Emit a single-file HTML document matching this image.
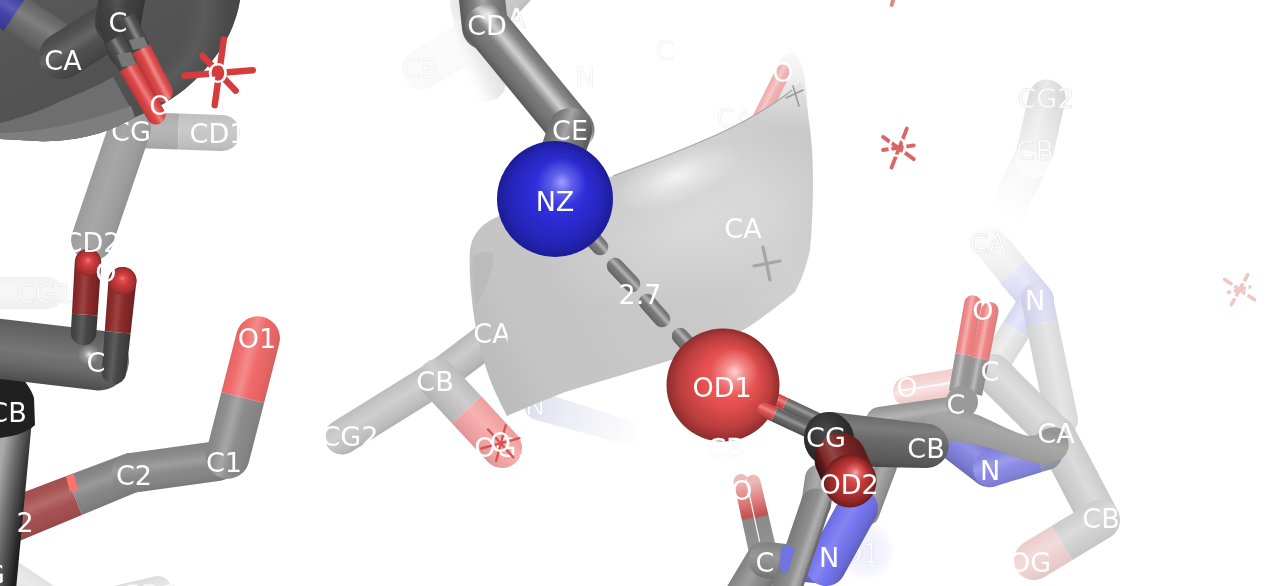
<!DOCTYPE html>
<html lang="en">
<head>
<meta charset="utf-8">
<title>PyMOL salt bridge NZ - OD1</title>
<style>
html,body{margin:0;padding:0;background:#ffffff;overflow:hidden;}
svg{display:block;will-change:transform;}
text{font-family:"DejaVu Sans","Liberation Sans",sans-serif;}
</style>
</head>
<body>
<svg width="1280" height="586" viewBox="0 0 1280 586">
<defs>
<linearGradient id="g1" gradientUnits="userSpaceOnUse" x1="1003.7" y1="175.8" x2="1036.3" y2="191.2"><stop offset="0" stop-color="#efefef"/><stop offset="0.19999999999999998" stop-color="#f2f2f2"/><stop offset="0.37" stop-color="#f3f3f3"/><stop offset="0.42" stop-color="#f3f3f3"/><stop offset="0.48" stop-color="#f3f3f3"/><stop offset="0.62" stop-color="#f2f2f2"/><stop offset="0.84" stop-color="#efefef"/><stop offset="1" stop-color="#ebebeb"/></linearGradient>
<linearGradient id="g2" gradientUnits="userSpaceOnUse" x1="1035" y1="152" x2="1005" y2="215"><stop offset="0" stop-color="#ffffff" stop-opacity="0.2"/><stop offset="1" stop-color="#ffffff" stop-opacity="1.0"/></linearGradient>
<linearGradient id="g3" gradientUnits="userSpaceOnUse" x1="1022.9" y1="121.0" x2="1059.1" y2="129.0"><stop offset="0" stop-color="#dadada"/><stop offset="0.19999999999999998" stop-color="#e1e1e1"/><stop offset="0.37" stop-color="#e8e8e8"/><stop offset="0.42" stop-color="#e9e9e9"/><stop offset="0.48" stop-color="#e7e7e7"/><stop offset="0.62" stop-color="#e0e0e0"/><stop offset="0.84" stop-color="#dadada"/><stop offset="1" stop-color="#d3d3d3"/></linearGradient>
<linearGradient id="g4" gradientUnits="userSpaceOnUse" x1="1047" y1="90" x2="1035" y2="160"><stop offset="0" stop-color="#ffffff" stop-opacity="0.0"/><stop offset="1" stop-color="#ffffff" stop-opacity="0.6"/></linearGradient>
<linearGradient id="g5" gradientUnits="userSpaceOnUse" x1="1026.6" y1="260.7" x2="1000.4" y2="282.3"><stop offset="0" stop-color="#dfdfdf"/><stop offset="0.19999999999999998" stop-color="#e4e4e4"/><stop offset="0.37" stop-color="#e9e9e9"/><stop offset="0.42" stop-color="#e9e9e9"/><stop offset="0.48" stop-color="#e8e8e8"/><stop offset="0.62" stop-color="#e4e4e4"/><stop offset="0.84" stop-color="#dfdfdf"/><stop offset="1" stop-color="#d9d9d9"/></linearGradient>
<linearGradient id="g6" gradientUnits="userSpaceOnUse" x1="1037.9" y1="274.9" x2="1012.1" y2="297.1"><stop offset="0" stop-color="#d3d3ef"/><stop offset="0.19999999999999998" stop-color="#d9d9f4"/><stop offset="0.37" stop-color="#dfdff6"/><stop offset="0.42" stop-color="#e0e0f6"/><stop offset="0.48" stop-color="#ddddf6"/><stop offset="0.62" stop-color="#d8d8f4"/><stop offset="0.84" stop-color="#d3d3ef"/><stop offset="1" stop-color="#cdcde8"/></linearGradient>
<linearGradient id="g7" gradientUnits="userSpaceOnUse" x1="984" y1="236" x2="1037" y2="300"><stop offset="0" stop-color="#ffffff" stop-opacity="0.85"/><stop offset="1" stop-color="#ffffff" stop-opacity="0.0"/></linearGradient>
<linearGradient id="g8" gradientUnits="userSpaceOnUse" x1="1013.4" y1="305.8" x2="1038.8" y2="321.7"><stop offset="0" stop-color="#d6d6ef"/><stop offset="0.19999999999999998" stop-color="#ddddf6"/><stop offset="0.37" stop-color="#e5e5f8"/><stop offset="0.42" stop-color="#e6e6f9"/><stop offset="0.48" stop-color="#e3e3f8"/><stop offset="0.62" stop-color="#dcdcf6"/><stop offset="0.84" stop-color="#d6d6ef"/><stop offset="1" stop-color="#cfcfe7"/></linearGradient>
<linearGradient id="g9" gradientUnits="userSpaceOnUse" x1="991.4" y1="340.8" x2="1016.8" y2="356.7"><stop offset="0" stop-color="#e0e0e0"/><stop offset="0.19999999999999998" stop-color="#e7e7e7"/><stop offset="0.37" stop-color="#ececec"/><stop offset="0.42" stop-color="#eeeeee"/><stop offset="0.48" stop-color="#ebebeb"/><stop offset="0.62" stop-color="#e6e6e6"/><stop offset="0.84" stop-color="#e0e0e0"/><stop offset="1" stop-color="#d8d8d8"/></linearGradient>
<linearGradient id="g10" gradientUnits="userSpaceOnUse" x1="1055.2" y1="307.9" x2="1023.8" y2="314.3"><stop offset="0" stop-color="#d4d4eb"/><stop offset="0.19999999999999998" stop-color="#dbdbf2"/><stop offset="0.37" stop-color="#e0e0f4"/><stop offset="0.42" stop-color="#e1e1f5"/><stop offset="0.48" stop-color="#dfdff4"/><stop offset="0.62" stop-color="#dadaf2"/><stop offset="0.84" stop-color="#d4d4eb"/><stop offset="1" stop-color="#cdcde3"/></linearGradient>
<linearGradient id="g11" gradientUnits="userSpaceOnUse" x1="1067.7" y1="368.4" x2="1036.3" y2="374.8"><stop offset="0" stop-color="#d8d8d8"/><stop offset="0.19999999999999998" stop-color="#dfdfdf"/><stop offset="0.37" stop-color="#e4e4e4"/><stop offset="0.42" stop-color="#e5e5e5"/><stop offset="0.48" stop-color="#e3e3e3"/><stop offset="0.62" stop-color="#dedede"/><stop offset="0.84" stop-color="#d8d8d8"/><stop offset="1" stop-color="#d1d1d1"/></linearGradient>
<linearGradient id="g12" gradientUnits="userSpaceOnUse" x1="1037.4" y1="390.6" x2="1010.6" y2="417.4"><stop offset="0" stop-color="#cecece"/><stop offset="0.19999999999999998" stop-color="#d7d7d7"/><stop offset="0.37" stop-color="#dddddd"/><stop offset="0.42" stop-color="#dedede"/><stop offset="0.48" stop-color="#dcdcdc"/><stop offset="0.62" stop-color="#d6d6d6"/><stop offset="0.84" stop-color="#cecece"/><stop offset="1" stop-color="#c5c5c5"/></linearGradient>
<linearGradient id="g13" gradientUnits="userSpaceOnUse" x1="1095.7" y1="468.7" x2="1060.3" y2="487.3"><stop offset="0" stop-color="#cacaca"/><stop offset="0.19999999999999998" stop-color="#d3d3d3"/><stop offset="0.37" stop-color="#dadada"/><stop offset="0.42" stop-color="#dbdbdb"/><stop offset="0.48" stop-color="#d8d8d8"/><stop offset="0.62" stop-color="#d2d2d2"/><stop offset="0.84" stop-color="#cacaca"/><stop offset="1" stop-color="#c1c1c1"/></linearGradient>
<linearGradient id="g14" gradientUnits="userSpaceOnUse" x1="1070.5" y1="514.5" x2="1091.2" y2="548.7"><stop offset="0" stop-color="#cccccc"/><stop offset="0.19999999999999998" stop-color="#d3d3d3"/><stop offset="0.37" stop-color="#dadada"/><stop offset="0.42" stop-color="#dbdbdb"/><stop offset="0.48" stop-color="#d8d8d8"/><stop offset="0.62" stop-color="#d2d2d2"/><stop offset="0.84" stop-color="#cccccc"/><stop offset="1" stop-color="#c5c5c5"/></linearGradient>
<linearGradient id="g15" gradientUnits="userSpaceOnUse" x1="1037.5" y1="534.5" x2="1058.2" y2="568.7"><stop offset="0" stop-color="#eacccc"/><stop offset="0.19999999999999998" stop-color="#f0d3d3"/><stop offset="0.37" stop-color="#f3dada"/><stop offset="0.42" stop-color="#f3dbdb"/><stop offset="0.48" stop-color="#f2d8d8"/><stop offset="0.62" stop-color="#f0d2d2"/><stop offset="0.84" stop-color="#eacccc"/><stop offset="1" stop-color="#e2c5c5"/></linearGradient>
<linearGradient id="g16" gradientUnits="userSpaceOnUse" x1="927.5" y1="373.0" x2="932.5" y2="402.5"><stop offset="0" stop-color="#f0cece"/><stop offset="0.28" stop-color="#f7d5d5"/><stop offset="0.45" stop-color="#f9e1e1"/><stop offset="0.5" stop-color="#fae3e3"/><stop offset="0.56" stop-color="#f9dfdf"/><stop offset="0.7" stop-color="#f7d4d4"/><stop offset="0.84" stop-color="#f0cece"/><stop offset="1" stop-color="#e8c7c7"/></linearGradient>
<linearGradient id="g17" gradientUnits="userSpaceOnUse" x1="438.0" y1="36.0" x2="459.0" y2="70.0"><stop offset="0" stop-color="#fafafa"/><stop offset="0.19999999999999998" stop-color="#fbfbfb"/><stop offset="0.37" stop-color="#fbfbfb"/><stop offset="0.42" stop-color="#fbfbfb"/><stop offset="0.48" stop-color="#fbfbfb"/><stop offset="0.62" stop-color="#fbfbfb"/><stop offset="0.84" stop-color="#fafafa"/><stop offset="1" stop-color="#f8f8f8"/></linearGradient>
<linearGradient id="g18" gradientUnits="userSpaceOnUse" x1="490" y1="40" x2="452" y2="58"><stop offset="0" stop-color="#dcdcdc"/><stop offset="0.5" stop-color="#efefef"/><stop offset="1" stop-color="#ffffff" stop-opacity="0"/></linearGradient>
<linearGradient id="g19" gradientUnits="userSpaceOnUse" x1="502.8" y1="-28.5" x2="532.2" y2="-1.5"><stop offset="0" stop-color="#c5c5c5"/><stop offset="0.19999999999999998" stop-color="#cdcdcd"/><stop offset="0.37" stop-color="#d7d7d7"/><stop offset="0.42" stop-color="#d9d9d9"/><stop offset="0.48" stop-color="#d5d5d5"/><stop offset="0.62" stop-color="#cccccc"/><stop offset="0.84" stop-color="#c5c5c5"/><stop offset="1" stop-color="#bcbcbc"/></linearGradient>
<linearGradient id="g20" gradientUnits="userSpaceOnUse" x1="525" y1="400" x2="640" y2="440"><stop offset="0" stop-color="#dcdcf0"/><stop offset="0.35" stop-color="#ececf6"/><stop offset="1" stop-color="#ffffff"/></linearGradient>
<linearGradient id="g21" gradientUnits="userSpaceOnUse" x1="453.3" y1="344.4" x2="473.7" y2="371.6"><stop offset="0" stop-color="#b8b8b8"/><stop offset="0.19999999999999998" stop-color="#c3c3c3"/><stop offset="0.37" stop-color="#cacaca"/><stop offset="0.42" stop-color="#cbcbcb"/><stop offset="0.48" stop-color="#c8c8c8"/><stop offset="0.62" stop-color="#c2c2c2"/><stop offset="0.84" stop-color="#b8b8b8"/><stop offset="1" stop-color="#ababab"/></linearGradient>
<linearGradient id="g22" gradientUnits="userSpaceOnUse" x1="380.3" y1="392.6" x2="398.7" y2="422.4"><stop offset="0" stop-color="#bdbdbd"/><stop offset="0.19999999999999998" stop-color="#c7c7c7"/><stop offset="0.37" stop-color="#cdcdcd"/><stop offset="0.42" stop-color="#cfcfcf"/><stop offset="0.48" stop-color="#cccccc"/><stop offset="0.62" stop-color="#c6c6c6"/><stop offset="0.84" stop-color="#bdbdbd"/><stop offset="1" stop-color="#b2b2b2"/></linearGradient>
<linearGradient id="g23" gradientUnits="userSpaceOnUse" x1="466.5" y1="380.4" x2="437.2" y2="407.6"><stop offset="0" stop-color="#bbbbbb"/><stop offset="0.19999999999999998" stop-color="#c5c5c5"/><stop offset="0.37" stop-color="#cccccc"/><stop offset="0.42" stop-color="#cdcdcd"/><stop offset="0.48" stop-color="#cacaca"/><stop offset="0.62" stop-color="#c4c4c4"/><stop offset="0.84" stop-color="#bbbbbb"/><stop offset="1" stop-color="#b0b0b0"/></linearGradient>
<linearGradient id="g24" gradientUnits="userSpaceOnUse" x1="499.5" y1="415.9" x2="470.2" y2="443.1"><stop offset="0" stop-color="#e99f9f"/><stop offset="0.19999999999999998" stop-color="#f4a7a7"/><stop offset="0.37" stop-color="#f5b1b1"/><stop offset="0.42" stop-color="#f6b3b3"/><stop offset="0.48" stop-color="#f5afaf"/><stop offset="0.62" stop-color="#f4a6a6"/><stop offset="0.84" stop-color="#e99f9f"/><stop offset="1" stop-color="#dc9595"/></linearGradient>
<linearGradient id="g25" gradientUnits="userSpaceOnUse" x1="792" y1="50" x2="786" y2="110"><stop offset="0" stop-color="#fbfbfb"/><stop offset="0.5" stop-color="#ededed"/><stop offset="1" stop-color="#d8d8d8"/></linearGradient>
<linearGradient id="g26" gradientUnits="userSpaceOnUse" x1="764.8" y1="91.6" x2="778.2" y2="98.4"><stop offset="0" stop-color="#ecadad"/><stop offset="0.19999999999999998" stop-color="#f3b4b4"/><stop offset="0.37" stop-color="#f6c6c6"/><stop offset="0.42" stop-color="#f7c9c9"/><stop offset="0.48" stop-color="#f6c2c2"/><stop offset="0.62" stop-color="#f3b2b2"/><stop offset="0.84" stop-color="#ecadad"/><stop offset="1" stop-color="#e4a7a7"/></linearGradient>
<linearGradient id="g27" gradientUnits="userSpaceOnUse" x1="470" y1="330" x2="815" y2="150"><stop offset="0" stop-color="#bcbcbc"/><stop offset="0.12" stop-color="#c4c4c4"/><stop offset="0.55" stop-color="#c9c9c9"/><stop offset="0.8" stop-color="#d0d0d0"/><stop offset="1" stop-color="#c9c9c9"/></linearGradient>
<linearGradient id="g28" gradientUnits="userSpaceOnUse" x1="800" y1="78" x2="790" y2="130"><stop offset="0" stop-color="#ffffff" stop-opacity="0.55"/><stop offset="1" stop-color="#ffffff" stop-opacity="0"/></linearGradient>
<radialGradient id="g29" gradientUnits="userSpaceOnUse" cx="0" cy="0" r="1" gradientTransform="translate(676,177) rotate(-21) scale(68,27)"><stop offset="0" stop-color="#ffffff" stop-opacity="0.75"/><stop offset="0.5" stop-color="#ffffff" stop-opacity="0.3"/><stop offset="1" stop-color="#ffffff" stop-opacity="0"/></radialGradient>
<radialGradient id="g30" gradientUnits="userSpaceOnUse" cx="0" cy="0" r="1" gradientTransform="translate(690,225) rotate(-20) scale(150,75)"><stop offset="0" stop-color="#ffffff" stop-opacity="0.28"/><stop offset="0.6" stop-color="#ffffff" stop-opacity="0.12"/><stop offset="1" stop-color="#ffffff" stop-opacity="0"/></radialGradient>
<linearGradient id="g31" gradientUnits="userSpaceOnUse" x1="505.4" y1="1.1" x2="459.6" y2="5.9"><stop offset="0" stop-color="#6d6d6d"/><stop offset="0.28" stop-color="#818181"/><stop offset="0.45" stop-color="#9f9f9f"/><stop offset="0.5" stop-color="#a5a5a5"/><stop offset="0.56" stop-color="#999999"/><stop offset="0.7" stop-color="#7e7e7e"/><stop offset="0.84" stop-color="#6d6d6d"/><stop offset="1" stop-color="#585858"/></linearGradient>
<linearGradient id="g32" gradientUnits="userSpaceOnUse" x1="547.1" y1="64.2" x2="512.4" y2="92.8"><stop offset="0" stop-color="#6f6f6f"/><stop offset="0.17" stop-color="#868686"/><stop offset="0.34" stop-color="#c3c3c3"/><stop offset="0.39" stop-color="#cfcfcf"/><stop offset="0.45" stop-color="#b7b7b7"/><stop offset="0.5900000000000001" stop-color="#808080"/><stop offset="0.84" stop-color="#6f6f6f"/><stop offset="1" stop-color="#5a5a5a"/></linearGradient>
<linearGradient id="g33" gradientUnits="userSpaceOnUse" x1="544.1" y1="138.0" x2="585.9" y2="152.0"><stop offset="0" stop-color="#6b6b6b"/><stop offset="0.19999999999999998" stop-color="#7f7f7f"/><stop offset="0.37" stop-color="#9d9d9d"/><stop offset="0.42" stop-color="#a3a3a3"/><stop offset="0.48" stop-color="#989898"/><stop offset="0.62" stop-color="#7c7c7c"/><stop offset="0.84" stop-color="#6b6b6b"/><stop offset="1" stop-color="#575757"/></linearGradient>
<radialGradient id="g34"><stop offset="0" stop-color="#ffffff" stop-opacity="0.75"/><stop offset="1" stop-color="#ffffff" stop-opacity="0"/></radialGradient>
<linearGradient id="g35" gradientUnits="userSpaceOnUse" x1="598.7" y1="233.0" x2="586.3" y2="244.0"><stop offset="0" stop-color="#6f6f6f"/><stop offset="0.18000000000000002" stop-color="#7e7e7e"/><stop offset="0.35000000000000003" stop-color="#a9a9a9"/><stop offset="0.4" stop-color="#b2b2b2"/><stop offset="0.46" stop-color="#a1a1a1"/><stop offset="0.6000000000000001" stop-color="#7a7a7a"/><stop offset="0.84" stop-color="#6f6f6f"/><stop offset="1" stop-color="#626262"/></linearGradient>
<linearGradient id="g36" gradientUnits="userSpaceOnUse" x1="629.5" y1="269.3" x2="617.5" y2="280.7"><stop offset="0" stop-color="#6f6f6f"/><stop offset="0.18000000000000002" stop-color="#7e7e7e"/><stop offset="0.35000000000000003" stop-color="#a9a9a9"/><stop offset="0.4" stop-color="#b2b2b2"/><stop offset="0.46" stop-color="#a1a1a1"/><stop offset="0.6000000000000001" stop-color="#7a7a7a"/><stop offset="0.84" stop-color="#6f6f6f"/><stop offset="1" stop-color="#626262"/></linearGradient>
<linearGradient id="g37" gradientUnits="userSpaceOnUse" x1="660.7" y1="305.0" x2="648.3" y2="316.0"><stop offset="0" stop-color="#6f6f6f"/><stop offset="0.18000000000000002" stop-color="#7e7e7e"/><stop offset="0.35000000000000003" stop-color="#a9a9a9"/><stop offset="0.4" stop-color="#b2b2b2"/><stop offset="0.46" stop-color="#a1a1a1"/><stop offset="0.6000000000000001" stop-color="#7a7a7a"/><stop offset="0.84" stop-color="#6f6f6f"/><stop offset="1" stop-color="#626262"/></linearGradient>
<linearGradient id="g38" gradientUnits="userSpaceOnUse" x1="696.1" y1="341.5" x2="683.9" y2="352.5"><stop offset="0" stop-color="#6f6f6f"/><stop offset="0.18000000000000002" stop-color="#7e7e7e"/><stop offset="0.35000000000000003" stop-color="#a9a9a9"/><stop offset="0.4" stop-color="#b2b2b2"/><stop offset="0.46" stop-color="#a1a1a1"/><stop offset="0.6000000000000001" stop-color="#7a7a7a"/><stop offset="0.84" stop-color="#6f6f6f"/><stop offset="1" stop-color="#626262"/></linearGradient>
<linearGradient id="g39" gradientUnits="userSpaceOnUse" x1="773.9" y1="391.3" x2="768.3" y2="403.1"><stop offset="0" stop-color="#c24545"/><stop offset="0.19999999999999998" stop-color="#e15454"/><stop offset="0.37" stop-color="#e87d7d"/><stop offset="0.42" stop-color="#e98484"/><stop offset="0.48" stop-color="#e77575"/><stop offset="0.62" stop-color="#e05050"/><stop offset="0.84" stop-color="#c24545"/><stop offset="1" stop-color="#9d3838"/></linearGradient>
<linearGradient id="g40" gradientUnits="userSpaceOnUse" x1="803.9" y1="405.6" x2="798.3" y2="417.3"><stop offset="0" stop-color="#616161"/><stop offset="0.19999999999999998" stop-color="#737373"/><stop offset="0.37" stop-color="#949494"/><stop offset="0.42" stop-color="#9b9b9b"/><stop offset="0.48" stop-color="#8e8e8e"/><stop offset="0.62" stop-color="#707070"/><stop offset="0.84" stop-color="#616161"/><stop offset="1" stop-color="#4e4e4e"/></linearGradient>
<radialGradient id="g41" gradientUnits="userSpaceOnUse" cx="555" cy="199" r="58" fx="562" fy="182"><stop offset="0" stop-color="#5c5cff"/><stop offset="0.18" stop-color="#3f3fe6"/><stop offset="0.5" stop-color="#2c2cd6"/><stop offset="0.82" stop-color="#2424b6"/><stop offset="1" stop-color="#1c1c96"/></radialGradient>
<radialGradient id="g42"><stop offset="0" stop-color="#ffffff" stop-opacity="0.4"/><stop offset="0.4" stop-color="#ffffff" stop-opacity="0.18"/><stop offset="1" stop-color="#ffffff" stop-opacity="0"/></radialGradient>
<radialGradient id="g43" gradientUnits="userSpaceOnUse" cx="723" cy="385" r="56.5" fx="735" fy="372"><stop offset="0" stop-color="#ff7a7a"/><stop offset="0.18" stop-color="#ef6060"/><stop offset="0.5" stop-color="#e44e4e"/><stop offset="0.82" stop-color="#b93d3d"/><stop offset="1" stop-color="#8e2c2c"/></radialGradient>
<radialGradient id="g44"><stop offset="0" stop-color="#ffffff" stop-opacity="0.65"/><stop offset="0.4" stop-color="#ffffff" stop-opacity="0.29"/><stop offset="1" stop-color="#ffffff" stop-opacity="0"/></radialGradient>
<linearGradient id="g45" gradientUnits="userSpaceOnUse" x1="917.0" y1="401.6" x2="921.0" y2="429.4"><stop offset="0" stop-color="#929292"/><stop offset="0.19999999999999998" stop-color="#a2a2a2"/><stop offset="0.37" stop-color="#b0b0b0"/><stop offset="0.42" stop-color="#b3b3b3"/><stop offset="0.48" stop-color="#adadad"/><stop offset="0.62" stop-color="#a0a0a0"/><stop offset="0.84" stop-color="#929292"/><stop offset="1" stop-color="#808080"/></linearGradient>
<linearGradient id="g46" gradientUnits="userSpaceOnUse" x1="977.6" y1="435.5" x2="954.4" y2="465.5"><stop offset="0" stop-color="#7979cc"/><stop offset="0.19999999999999998" stop-color="#8585de"/><stop offset="0.37" stop-color="#9191e1"/><stop offset="0.42" stop-color="#9393e2"/><stop offset="0.48" stop-color="#8e8ee1"/><stop offset="0.62" stop-color="#8484de"/><stop offset="0.84" stop-color="#7979cc"/><stop offset="1" stop-color="#6c6cb6"/></linearGradient>
<linearGradient id="g47" gradientUnits="userSpaceOnUse" x1="1008.6" y1="444.6" x2="1019.0" y2="479.0"><stop offset="0" stop-color="#8383da"/><stop offset="0.19999999999999998" stop-color="#8b8be6"/><stop offset="0.37" stop-color="#9999e9"/><stop offset="0.42" stop-color="#9c9cea"/><stop offset="0.48" stop-color="#9696e9"/><stop offset="0.62" stop-color="#8a8ae6"/><stop offset="0.84" stop-color="#8383da"/><stop offset="1" stop-color="#7979ca"/></linearGradient>
<linearGradient id="g48" gradientUnits="userSpaceOnUse" x1="1036.6" y1="436.1" x2="1047.0" y2="470.5"><stop offset="0" stop-color="#9292aa"/><stop offset="0.19999999999999998" stop-color="#9b9bb5"/><stop offset="0.37" stop-color="#a7a7be"/><stop offset="0.42" stop-color="#a9a9bf"/><stop offset="0.48" stop-color="#a5a5bc"/><stop offset="0.62" stop-color="#9a9ab4"/><stop offset="0.84" stop-color="#9292aa"/><stop offset="1" stop-color="#88889e"/></linearGradient>
<linearGradient id="g49" gradientUnits="userSpaceOnUse" x1="952.1" y1="371.8" x2="969.4" y2="374.8"><stop offset="0" stop-color="#959595"/><stop offset="0.19999999999999998" stop-color="#9d9d9d"/><stop offset="0.37" stop-color="#b8b8b8"/><stop offset="0.42" stop-color="#bdbdbd"/><stop offset="0.48" stop-color="#b3b3b3"/><stop offset="0.62" stop-color="#9a9a9a"/><stop offset="0.84" stop-color="#959595"/><stop offset="1" stop-color="#8f8f8f"/></linearGradient>
<linearGradient id="g50" gradientUnits="userSpaceOnUse" x1="959.9" y1="327.3" x2="977.1" y2="330.3"><stop offset="0" stop-color="#e88080"/><stop offset="0.19999999999999998" stop-color="#f08787"/><stop offset="0.37" stop-color="#f4a9a9"/><stop offset="0.42" stop-color="#f5afaf"/><stop offset="0.48" stop-color="#f4a2a2"/><stop offset="0.62" stop-color="#f08484"/><stop offset="0.84" stop-color="#e88080"/><stop offset="1" stop-color="#df7b7b"/></linearGradient>
<linearGradient id="g51" gradientUnits="userSpaceOnUse" x1="968.4" y1="374.7" x2="985.6" y2="378.0"><stop offset="0" stop-color="#919191"/><stop offset="0.19999999999999998" stop-color="#999999"/><stop offset="0.37" stop-color="#b5b5b5"/><stop offset="0.42" stop-color="#bbbbbb"/><stop offset="0.48" stop-color="#b0b0b0"/><stop offset="0.62" stop-color="#969696"/><stop offset="0.84" stop-color="#919191"/><stop offset="1" stop-color="#8c8c8c"/></linearGradient>
<linearGradient id="g52" gradientUnits="userSpaceOnUse" x1="976.6" y1="332.7" x2="993.8" y2="336.0"><stop offset="0" stop-color="#e88080"/><stop offset="0.19999999999999998" stop-color="#f08787"/><stop offset="0.37" stop-color="#f4a9a9"/><stop offset="0.42" stop-color="#f5afaf"/><stop offset="0.48" stop-color="#f4a2a2"/><stop offset="0.62" stop-color="#f08484"/><stop offset="0.84" stop-color="#e88080"/><stop offset="1" stop-color="#df7b7b"/></linearGradient>
<linearGradient id="g53" gradientUnits="userSpaceOnUse" x1="990" y1="415" x2="978" y2="455"><stop offset="0" stop-color="#969696"/><stop offset="0.3" stop-color="#a8a8a8"/><stop offset="0.7" stop-color="#9c9c9c"/><stop offset="1" stop-color="#888888"/></linearGradient>
<radialGradient id="g54"><stop offset="0" stop-color="#eeeefb"/><stop offset="0.7" stop-color="#f5f5fd"/><stop offset="1" stop-color="#ffffff" stop-opacity="0"/></radialGradient>
<linearGradient id="g55" gradientUnits="userSpaceOnUse" x1="741" y1="481" x2="756" y2="550"><stop offset="0" stop-color="#ecb8b8"/><stop offset="0.3" stop-color="#dc7c7c"/><stop offset="0.52" stop-color="#c25050"/><stop offset="0.56" stop-color="#8a8a8a"/><stop offset="1" stop-color="#929292"/></linearGradient>
<linearGradient id="g56" gradientUnits="userSpaceOnUse" x1="753" y1="482" x2="768" y2="546"><stop offset="0" stop-color="#ecb8b8"/><stop offset="0.3" stop-color="#dc7c7c"/><stop offset="0.52" stop-color="#c25050"/><stop offset="0.56" stop-color="#8a8a8a"/><stop offset="1" stop-color="#929292"/></linearGradient>
<linearGradient id="g57" gradientUnits="userSpaceOnUse" x1="733.7" y1="575.2" x2="766.3" y2="594.8"><stop offset="0" stop-color="#818181"/><stop offset="0.19999999999999998" stop-color="#8f8f8f"/><stop offset="0.37" stop-color="#9c9c9c"/><stop offset="0.42" stop-color="#9f9f9f"/><stop offset="0.48" stop-color="#9a9a9a"/><stop offset="0.62" stop-color="#8e8e8e"/><stop offset="0.84" stop-color="#818181"/><stop offset="1" stop-color="#727272"/></linearGradient>
<linearGradient id="g58" gradientUnits="userSpaceOnUse" x1="778.3" y1="543.1" x2="774.7" y2="579.0"><stop offset="0" stop-color="#7f7f7f"/><stop offset="0.19999999999999998" stop-color="#8d8d8d"/><stop offset="0.37" stop-color="#969696"/><stop offset="0.42" stop-color="#989898"/><stop offset="0.48" stop-color="#949494"/><stop offset="0.62" stop-color="#8c8c8c"/><stop offset="0.84" stop-color="#7f7f7f"/><stop offset="1" stop-color="#707070"/></linearGradient>
<linearGradient id="g59" gradientUnits="userSpaceOnUse" x1="808.3" y1="546.1" x2="804.7" y2="582.0"><stop offset="0" stop-color="#6a6ad1"/><stop offset="0.19999999999999998" stop-color="#7575e6"/><stop offset="0.37" stop-color="#8080e8"/><stop offset="0.42" stop-color="#8282e8"/><stop offset="0.48" stop-color="#7e7ee8"/><stop offset="0.62" stop-color="#7474e6"/><stop offset="0.84" stop-color="#6a6ad1"/><stop offset="1" stop-color="#5d5db8"/></linearGradient>
<linearGradient id="g60" gradientUnits="userSpaceOnUse" x1="866.7" y1="486.1" x2="887.3" y2="493.9"><stop offset="0" stop-color="#919191"/><stop offset="0.19999999999999998" stop-color="#9d9d9d"/><stop offset="0.37" stop-color="#a9a9a9"/><stop offset="0.42" stop-color="#ababab"/><stop offset="0.48" stop-color="#a6a6a6"/><stop offset="0.62" stop-color="#9c9c9c"/><stop offset="0.84" stop-color="#919191"/><stop offset="1" stop-color="#858585"/></linearGradient>
<linearGradient id="g61" gradientUnits="userSpaceOnUse" x1="824.5" y1="527.3" x2="859.5" y2="546.7"><stop offset="0" stop-color="#6b6bda"/><stop offset="0.18000000000000002" stop-color="#7777f0"/><stop offset="0.35000000000000003" stop-color="#8282f1"/><stop offset="0.4" stop-color="#8484f2"/><stop offset="0.46" stop-color="#8080f1"/><stop offset="0.6000000000000001" stop-color="#7676f0"/><stop offset="0.84" stop-color="#6b6bda"/><stop offset="1" stop-color="#5e5ec0"/></linearGradient>
<linearGradient id="g62" gradientUnits="userSpaceOnUse" x1="803.2" y1="489.3" x2="832.8" y2="493.7"><stop offset="0" stop-color="#8e8e8e"/><stop offset="0.19999999999999998" stop-color="#9d9d9d"/><stop offset="0.37" stop-color="#a9a9a9"/><stop offset="0.42" stop-color="#ababab"/><stop offset="0.48" stop-color="#a6a6a6"/><stop offset="0.62" stop-color="#9c9c9c"/><stop offset="0.84" stop-color="#8e8e8e"/><stop offset="1" stop-color="#7d7d7d"/></linearGradient>
<linearGradient id="g63" gradientUnits="userSpaceOnUse" x1="785.3" y1="546.7" x2="813.7" y2="556.3"><stop offset="0" stop-color="#797979"/><stop offset="0.48" stop-color="#8f8f8f"/><stop offset="0.6499999999999999" stop-color="#a9a9a9"/><stop offset="0.7" stop-color="#aeaeae"/><stop offset="0.76" stop-color="#a4a4a4"/><stop offset="0.8999999999999999" stop-color="#8c8c8c"/><stop offset="0.84" stop-color="#797979"/><stop offset="1" stop-color="#626262"/></linearGradient>
<linearGradient id="g64" gradientUnits="userSpaceOnUse" x1="772.9" y1="405.4" x2="766.5" y2="419.0"><stop offset="0" stop-color="#c24545"/><stop offset="0.19999999999999998" stop-color="#e15454"/><stop offset="0.37" stop-color="#e87d7d"/><stop offset="0.42" stop-color="#e98484"/><stop offset="0.48" stop-color="#e77575"/><stop offset="0.62" stop-color="#e05050"/><stop offset="0.84" stop-color="#c24545"/><stop offset="1" stop-color="#9d3838"/></linearGradient>
<linearGradient id="g65" gradientUnits="userSpaceOnUse" x1="796.4" y1="416.4" x2="790.0" y2="430.0"><stop offset="0" stop-color="#5a5a5a"/><stop offset="0.19999999999999998" stop-color="#6c6c6c"/><stop offset="0.37" stop-color="#8f8f8f"/><stop offset="0.42" stop-color="#959595"/><stop offset="0.48" stop-color="#888888"/><stop offset="0.62" stop-color="#686868"/><stop offset="0.84" stop-color="#5a5a5a"/><stop offset="1" stop-color="#494949"/></linearGradient>
<linearGradient id="g66" gradientUnits="userSpaceOnUse" x1="880.9" y1="415.6" x2="877.1" y2="469.4"><stop offset="0" stop-color="#575757"/><stop offset="0.03" stop-color="#6b6b6b"/><stop offset="0.2" stop-color="#797979"/><stop offset="0.25" stop-color="#7c7c7c"/><stop offset="0.31" stop-color="#777777"/><stop offset="0.45" stop-color="#6a6a6a"/><stop offset="0.84" stop-color="#575757"/><stop offset="1" stop-color="#404040"/></linearGradient>
<radialGradient id="g67" cx="0.45" cy="0.35" r="0.7"><stop offset="0" stop-color="#4a4a4a"/><stop offset="0.6" stop-color="#2e2e2e"/><stop offset="1" stop-color="#222222"/></radialGradient>
<linearGradient id="g68" gradientUnits="userSpaceOnUse" x1="868.8" y1="459.1" x2="821.2" y2="479.9"><stop offset="0" stop-color="#5d1b1b"/><stop offset="0.38" stop-color="#7e2727"/><stop offset="0.5499999999999999" stop-color="#8d4040"/><stop offset="0.6" stop-color="#904545"/><stop offset="0.6599999999999999" stop-color="#8a3b3b"/><stop offset="0.8" stop-color="#7c2424"/><stop offset="0.84" stop-color="#5d1b1b"/><stop offset="1" stop-color="#381010"/></linearGradient>
<radialGradient id="g69" gradientUnits="userSpaceOnUse" cx="850" cy="481" r="26.5" fx="856" fy="472"><stop offset="0" stop-color="#ff7a7a"/><stop offset="0.18" stop-color="#d95151"/><stop offset="0.5" stop-color="#c03636"/><stop offset="0.82" stop-color="#952929"/><stop offset="1" stop-color="#6a1c1c"/></radialGradient>
<radialGradient id="g70"><stop offset="0" stop-color="#ffffff" stop-opacity="0.3"/><stop offset="0.4" stop-color="#ffffff" stop-opacity="0.14"/><stop offset="1" stop-color="#ffffff" stop-opacity="0"/></radialGradient>
<linearGradient id="g71" gradientUnits="userSpaceOnUse" x1="13.5" y1="277.0" x2="13.5" y2="309.0"><stop offset="0" stop-color="#f2f2f2"/><stop offset="0.19999999999999998" stop-color="#f5f5f5"/><stop offset="0.37" stop-color="#f7f7f7"/><stop offset="0.42" stop-color="#f7f7f7"/><stop offset="0.48" stop-color="#f6f6f6"/><stop offset="0.62" stop-color="#f5f5f5"/><stop offset="0.84" stop-color="#f2f2f2"/><stop offset="1" stop-color="#eeeeee"/></linearGradient>
<linearGradient id="g72" gradientUnits="userSpaceOnUse" x1="157.4" y1="112.8" x2="156.1" y2="148.7"><stop offset="0" stop-color="#acacac"/><stop offset="0.19999999999999998" stop-color="#b2b2b2"/><stop offset="0.37" stop-color="#b6b6b6"/><stop offset="0.42" stop-color="#b7b7b7"/><stop offset="0.48" stop-color="#b5b5b5"/><stop offset="0.62" stop-color="#b2b2b2"/><stop offset="0.84" stop-color="#acacac"/><stop offset="1" stop-color="#a4a4a4"/></linearGradient>
<linearGradient id="g73" gradientUnits="userSpaceOnUse" x1="200.9" y1="114.3" x2="199.6" y2="150.2"><stop offset="0" stop-color="#bfbfbf"/><stop offset="0.19999999999999998" stop-color="#c6c6c6"/><stop offset="0.37" stop-color="#c9c9c9"/><stop offset="0.42" stop-color="#c9c9c9"/><stop offset="0.48" stop-color="#c8c8c8"/><stop offset="0.62" stop-color="#c6c6c6"/><stop offset="0.84" stop-color="#bfbfbf"/><stop offset="1" stop-color="#b6b6b6"/></linearGradient>
<linearGradient id="g74" gradientUnits="userSpaceOnUse" x1="91.1" y1="177.3" x2="130.9" y2="190.7"><stop offset="0" stop-color="#9b9b9b"/><stop offset="0.19999999999999998" stop-color="#a2a2a2"/><stop offset="0.37" stop-color="#a6a6a6"/><stop offset="0.42" stop-color="#a7a7a7"/><stop offset="0.48" stop-color="#a5a5a5"/><stop offset="0.62" stop-color="#a2a2a2"/><stop offset="0.84" stop-color="#9b9b9b"/><stop offset="1" stop-color="#929292"/></linearGradient>
<linearGradient id="g75" gradientUnits="userSpaceOnUse" x1="60" y1="0" x2="130" y2="140"><stop offset="0" stop-color="#575757"/><stop offset="1" stop-color="#4e4e4e"/></linearGradient>
<radialGradient id="g76" gradientUnits="userSpaceOnUse" cx="120" cy="10" r="135"><stop offset="0" stop-color="#525252" stop-opacity="0"/><stop offset="0.45" stop-color="#525252" stop-opacity="0"/><stop offset="0.62" stop-color="#5c5c5c" stop-opacity="0.9"/><stop offset="0.8" stop-color="#4a4a4a" stop-opacity="1"/><stop offset="1" stop-color="#404040" stop-opacity="1"/></radialGradient>
<linearGradient id="g77" gradientUnits="userSpaceOnUse" x1="7.4" y1="-14.8" x2="-14.4" y2="18.8"><stop offset="0" stop-color="#3d3d9b"/><stop offset="0.19999999999999998" stop-color="#4646ad"/><stop offset="0.37" stop-color="#5757b4"/><stop offset="0.42" stop-color="#5a5ab6"/><stop offset="0.48" stop-color="#5454b3"/><stop offset="0.62" stop-color="#4444ac"/><stop offset="0.84" stop-color="#3d3d9b"/><stop offset="1" stop-color="#353586"/></linearGradient>
<linearGradient id="g78" gradientUnits="userSpaceOnUse" x1="44.4" y1="9.2" x2="22.6" y2="42.8"><stop offset="0" stop-color="#636363"/><stop offset="0.19999999999999998" stop-color="#6f6f6f"/><stop offset="0.37" stop-color="#7d7d7d"/><stop offset="0.42" stop-color="#7f7f7f"/><stop offset="0.48" stop-color="#7a7a7a"/><stop offset="0.62" stop-color="#6e6e6e"/><stop offset="0.84" stop-color="#636363"/><stop offset="1" stop-color="#565656"/></linearGradient>
<linearGradient id="g79" gradientUnits="userSpaceOnUse" x1="76.7" y1="19.5" x2="101.3" y2="58.5"><stop offset="0" stop-color="#494949"/><stop offset="0.19999999999999998" stop-color="#525252"/><stop offset="0.37" stop-color="#626262"/><stop offset="0.42" stop-color="#656565"/><stop offset="0.48" stop-color="#5f5f5f"/><stop offset="0.62" stop-color="#505050"/><stop offset="0.84" stop-color="#494949"/><stop offset="1" stop-color="#404040"/></linearGradient>
<linearGradient id="g80" gradientUnits="userSpaceOnUse" x1="98.8" y1="-2.8" x2="144.2" y2="4.8"><stop offset="0" stop-color="#3c3c3c"/><stop offset="0.19999999999999998" stop-color="#444444"/><stop offset="0.37" stop-color="#525252"/><stop offset="0.42" stop-color="#555555"/><stop offset="0.48" stop-color="#4f4f4f"/><stop offset="0.62" stop-color="#424242"/><stop offset="0.84" stop-color="#3c3c3c"/><stop offset="1" stop-color="#353535"/></linearGradient>
<linearGradient id="g81" gradientUnits="userSpaceOnUse" x1="141.8" y1="29.3" x2="104.2" y2="42.7"><stop offset="0" stop-color="#3e3e3e"/><stop offset="0.19999999999999998" stop-color="#434343"/><stop offset="0.37" stop-color="#4f4f4f"/><stop offset="0.42" stop-color="#515151"/><stop offset="0.48" stop-color="#4d4d4d"/><stop offset="0.62" stop-color="#424242"/><stop offset="0.84" stop-color="#3e3e3e"/><stop offset="1" stop-color="#383838"/></linearGradient>
<linearGradient id="g82" gradientUnits="userSpaceOnUse" x1="128.1" y1="48.7" x2="111.7" y2="58.3"><stop offset="0" stop-color="#484848"/><stop offset="0.19999999999999998" stop-color="#545454"/><stop offset="0.37" stop-color="#7d7d7d"/><stop offset="0.42" stop-color="#848484"/><stop offset="0.48" stop-color="#757575"/><stop offset="0.62" stop-color="#505050"/><stop offset="0.84" stop-color="#484848"/><stop offset="1" stop-color="#3e3e3e"/></linearGradient>
<linearGradient id="g83" gradientUnits="userSpaceOnUse" x1="150.1" y1="86.2" x2="133.7" y2="95.8"><stop offset="0" stop-color="#ca3f3f"/><stop offset="0.19999999999999998" stop-color="#e14a4a"/><stop offset="0.37" stop-color="#e87575"/><stop offset="0.42" stop-color="#e97e7e"/><stop offset="0.48" stop-color="#e76d6d"/><stop offset="0.62" stop-color="#e04646"/><stop offset="0.84" stop-color="#ca3f3f"/><stop offset="1" stop-color="#af3737"/></linearGradient>
<linearGradient id="g84" gradientUnits="userSpaceOnUse" x1="141.9" y1="29.0" x2="124.1" y2="38.1"><stop offset="0" stop-color="#444444"/><stop offset="0.19999999999999998" stop-color="#515151"/><stop offset="0.37" stop-color="#818181"/><stop offset="0.42" stop-color="#8b8b8b"/><stop offset="0.48" stop-color="#787878"/><stop offset="0.62" stop-color="#4c4c4c"/><stop offset="0.84" stop-color="#444444"/><stop offset="1" stop-color="#3b3b3b"/></linearGradient>
<linearGradient id="g85" gradientUnits="userSpaceOnUse" x1="160.9" y1="66.0" x2="143.1" y2="75.1"><stop offset="0" stop-color="#ca3f3f"/><stop offset="0.19999999999999998" stop-color="#e14b4b"/><stop offset="0.37" stop-color="#e97d7d"/><stop offset="0.42" stop-color="#eb8787"/><stop offset="0.48" stop-color="#e87373"/><stop offset="0.62" stop-color="#e04646"/><stop offset="0.84" stop-color="#ca3f3f"/><stop offset="1" stop-color="#af3737"/></linearGradient>
<linearGradient id="g86" gradientUnits="userSpaceOnUse" x1="38.3" y1="575.5" x2="21.7" y2="600.5"><stop offset="0" stop-color="#e1e1e1"/><stop offset="0.19999999999999998" stop-color="#e6e6e6"/><stop offset="0.37" stop-color="#e9e9e9"/><stop offset="0.42" stop-color="#eaeaea"/><stop offset="0.48" stop-color="#e9e9e9"/><stop offset="0.62" stop-color="#e6e6e6"/><stop offset="0.84" stop-color="#e1e1e1"/><stop offset="1" stop-color="#dadada"/></linearGradient>
<linearGradient id="g87" gradientUnits="userSpaceOnUse" x1="136.0" y1="580.8" x2="142.0" y2="606.2"><stop offset="0" stop-color="#dcdcdc"/><stop offset="0.19999999999999998" stop-color="#e2e2e2"/><stop offset="0.37" stop-color="#e6e6e6"/><stop offset="0.42" stop-color="#e6e6e6"/><stop offset="0.48" stop-color="#e5e5e5"/><stop offset="0.62" stop-color="#e2e2e2"/><stop offset="0.84" stop-color="#dcdcdc"/><stop offset="1" stop-color="#d4d4d4"/></linearGradient>
<linearGradient id="g88" gradientUnits="userSpaceOnUse" x1="94.8" y1="464.8" x2="110.3" y2="503.7"><stop offset="0" stop-color="#818181"/><stop offset="0.19999999999999998" stop-color="#898989"/><stop offset="0.37" stop-color="#969696"/><stop offset="0.42" stop-color="#999999"/><stop offset="0.48" stop-color="#949494"/><stop offset="0.62" stop-color="#888888"/><stop offset="0.84" stop-color="#818181"/><stop offset="1" stop-color="#787878"/></linearGradient>
<linearGradient id="g89" gradientUnits="userSpaceOnUse" x1="34.0" y1="487.8" x2="50.2" y2="528.7"><stop offset="0" stop-color="#9f4e4e"/><stop offset="0.19999999999999998" stop-color="#a95454"/><stop offset="0.37" stop-color="#b26767"/><stop offset="0.42" stop-color="#b46a6a"/><stop offset="0.48" stop-color="#b16363"/><stop offset="0.62" stop-color="#a85252"/><stop offset="0.84" stop-color="#9f4e4e"/><stop offset="1" stop-color="#944848"/></linearGradient>
<linearGradient id="g90" gradientUnits="userSpaceOnUse" x1="-18.2" y1="508.6" x2="-1.8" y2="549.4"><stop offset="0" stop-color="#9f4e4e"/><stop offset="0.19999999999999998" stop-color="#a95353"/><stop offset="0.37" stop-color="#af6161"/><stop offset="0.42" stop-color="#b16363"/><stop offset="0.48" stop-color="#ae5e5e"/><stop offset="0.62" stop-color="#a85252"/><stop offset="0.84" stop-color="#9f4e4e"/><stop offset="1" stop-color="#944848"/></linearGradient>
<linearGradient id="g91" gradientUnits="userSpaceOnUse" x1="171.8" y1="447.2" x2="177.2" y2="486.8"><stop offset="0" stop-color="#838383"/><stop offset="0.19999999999999998" stop-color="#8b8b8b"/><stop offset="0.37" stop-color="#9a9a9a"/><stop offset="0.42" stop-color="#9d9d9d"/><stop offset="0.48" stop-color="#979797"/><stop offset="0.62" stop-color="#8a8a8a"/><stop offset="0.84" stop-color="#838383"/><stop offset="1" stop-color="#797979"/></linearGradient>
<linearGradient id="g92" gradientUnits="userSpaceOnUse" x1="213.8" y1="421.8" x2="256.4" y2="432.7"><stop offset="0" stop-color="#868686"/><stop offset="0.18000000000000002" stop-color="#8e8e8e"/><stop offset="0.35000000000000003" stop-color="#a2a2a2"/><stop offset="0.4" stop-color="#a5a5a5"/><stop offset="0.46" stop-color="#9e9e9e"/><stop offset="0.6000000000000001" stop-color="#8c8c8c"/><stop offset="0.84" stop-color="#868686"/><stop offset="1" stop-color="#7e7e7e"/></linearGradient>
<linearGradient id="g93" gradientUnits="userSpaceOnUse" x1="229.1" y1="362.3" x2="271.7" y2="373.2"><stop offset="0" stop-color="#e56565"/><stop offset="0.18000000000000002" stop-color="#f06d6d"/><stop offset="0.35000000000000003" stop-color="#f38686"/><stop offset="0.4" stop-color="#f38b8b"/><stop offset="0.46" stop-color="#f28181"/><stop offset="0.6000000000000001" stop-color="#f06a6a"/><stop offset="0.84" stop-color="#e56565"/><stop offset="1" stop-color="#d85f5f"/></linearGradient>
<linearGradient id="g94" gradientUnits="userSpaceOnUse" x1="-2" y1="480" x2="29" y2="485"><stop offset="0" stop-color="#aaaaaa"/><stop offset="0.45" stop-color="#666666"/><stop offset="1" stop-color="#1e1e1e"/></linearGradient>
<linearGradient id="g95" gradientUnits="userSpaceOnUse" x1="43.0" y1="323.7" x2="36.0" y2="383.3"><stop offset="0" stop-color="#5d5d5d"/><stop offset="0.28" stop-color="#6b6b6b"/><stop offset="0.45" stop-color="#747474"/><stop offset="0.5" stop-color="#767676"/><stop offset="0.56" stop-color="#727272"/><stop offset="0.7" stop-color="#6a6a6a"/><stop offset="0.84" stop-color="#5d5d5d"/><stop offset="1" stop-color="#4c4c4c"/></linearGradient>
<linearGradient id="g96" gradientUnits="userSpaceOnUse" x1="71.2" y1="323.5" x2="97.0" y2="325.1"><stop offset="0" stop-color="#3e3e3e"/><stop offset="0.19999999999999998" stop-color="#484848"/><stop offset="0.37" stop-color="#595959"/><stop offset="0.42" stop-color="#5c5c5c"/><stop offset="0.48" stop-color="#565656"/><stop offset="0.62" stop-color="#464646"/><stop offset="0.84" stop-color="#3e3e3e"/><stop offset="1" stop-color="#343434"/></linearGradient>
<linearGradient id="g97" gradientUnits="userSpaceOnUse" x1="73.1" y1="287.5" x2="99.6" y2="289.1"><stop offset="0" stop-color="#7c2525"/><stop offset="0.19999999999999998" stop-color="#8d2c2c"/><stop offset="0.37" stop-color="#984040"/><stop offset="0.42" stop-color="#9a4444"/><stop offset="0.48" stop-color="#963c3c"/><stop offset="0.62" stop-color="#8c2a2a"/><stop offset="0.84" stop-color="#7c2525"/><stop offset="1" stop-color="#692020"/></linearGradient>
<linearGradient id="g98" gradientUnits="userSpaceOnUse" x1="102.9" y1="351.0" x2="128.8" y2="353.4"><stop offset="0" stop-color="#3f3f3f"/><stop offset="0.19999999999999998" stop-color="#494949"/><stop offset="0.37" stop-color="#5a5a5a"/><stop offset="0.42" stop-color="#5d5d5d"/><stop offset="0.48" stop-color="#565656"/><stop offset="0.62" stop-color="#474747"/><stop offset="0.84" stop-color="#3f3f3f"/><stop offset="1" stop-color="#353535"/></linearGradient>
<linearGradient id="g99" gradientUnits="userSpaceOnUse" x1="106.1" y1="304.9" x2="134.0" y2="307.5"><stop offset="0" stop-color="#7c2525"/><stop offset="0.19999999999999998" stop-color="#8d2c2c"/><stop offset="0.37" stop-color="#984040"/><stop offset="0.42" stop-color="#9a4444"/><stop offset="0.48" stop-color="#963c3c"/><stop offset="0.62" stop-color="#8c2a2a"/><stop offset="0.84" stop-color="#7c2525"/><stop offset="1" stop-color="#692020"/></linearGradient>
<radialGradient id="g100" gradientUnits="userSpaceOnUse" cx="88" cy="263" r="13" fx="88" fy="260"><stop offset="0" stop-color="#ff7878"/><stop offset="0.18" stop-color="#de5252"/><stop offset="0.5" stop-color="#c83838"/><stop offset="0.82" stop-color="#aa3131"/><stop offset="1" stop-color="#8c2a2a"/></radialGradient>
<radialGradient id="g101" gradientUnits="userSpaceOnUse" cx="122.5" cy="281" r="14" fx="122.5" fy="278"><stop offset="0" stop-color="#ff7878"/><stop offset="0.18" stop-color="#de5252"/><stop offset="0.5" stop-color="#c83838"/><stop offset="0.82" stop-color="#aa3131"/><stop offset="1" stop-color="#8c2a2a"/></radialGradient>
<radialGradient id="g102"><stop offset="0" stop-color="#ffffff" stop-opacity="0.85"/><stop offset="0.4" stop-color="#ffffff" stop-opacity="0.3"/><stop offset="1" stop-color="#ffffff" stop-opacity="0"/></radialGradient>
</defs>
<rect width="1280" height="586" fill="#ffffff"/>
<g id="far-right-chain">
<path d="M1018.7,144.3 L988.7,207.3 A18.0,18.0 0 0 0 1021.3,222.7 L1051.3,159.7 A18.0,18.0 0 0 0 1018.7,144.3 Z" fill="url(#g1)"/>
<path d="M1017.8,143.8 L987.8,206.8 A19.0,19.0 0 0 0 1022.2,223.2 L1052.2,160.2 A19.0,19.0 0 0 0 1017.8,143.8 Z" fill="url(#g2)"/>
<path d="M1028.9,94.0 L1016.9,148.0 L1053.1,156.0 L1065.1,102.0 A18.5,18.5 0 0 0 1028.9,94.0 Z" fill="url(#g3)"/>
<path d="M1027.8,86.7 L1015.8,156.7 A19.5,19.5 0 0 0 1054.2,163.3 L1066.2,93.3 A19.5,19.5 0 0 0 1027.8,86.7 Z" fill="url(#g4)"/>
<path d="M976.9,253.8 L1023.9,310.8 A17.0,17.0 0 0 0 1050.1,289.2 L1003.1,232.2 A17.0,17.0 0 0 0 976.9,253.8 Z" fill="url(#g5)"/>
<path d="M1000.1,283.1 L1024.1,311.1 A17.0,17.0 0 0 0 1049.9,288.9 L1025.9,260.9 Z" fill="url(#g6)"/>
<path d="M970.1,247.5 L1023.1,311.5 A18.0,18.0 0 0 0 1050.9,288.5 L997.9,224.5 A18.0,18.0 0 0 0 970.1,247.5 Z" fill="url(#g7)"/>
<path d="M1023.3,290.0 L1003.5,321.5 L1028.9,337.5 L1048.7,306.0 A15.0,15.0 0 0 0 1023.3,290.0 Z" fill="url(#g8)"/>
<path d="M1003.5,321.5 L979.3,360.0 A15.0,15.0 0 0 0 1004.7,376.0 L1028.9,337.5 Z" fill="url(#g9)"/>
<path d="M1021.3,302.2 L1026.3,326.4 L1057.7,320.0 L1052.7,295.8 A16.0,16.0 0 0 0 1021.3,302.2 Z" fill="url(#g10)"/>
<path d="M1026.3,326.4 L1046.3,423.2 A16.0,16.0 0 0 0 1077.7,416.8 L1057.7,320.0 Z" fill="url(#g11)"/>
<path d="M978.6,385.4 L1042.6,449.4 A19.0,19.0 0 0 0 1069.4,422.6 L1005.4,358.6 A19.0,19.0 0 0 0 978.6,385.4 Z" fill="url(#g12)"/>
<path d="M1038.3,445.3 L1082.3,529.3 A20.0,20.0 0 0 0 1117.7,510.7 L1073.7,426.7 A20.0,20.0 0 0 0 1038.3,445.3 Z" fill="url(#g13)"/>
<path d="M1089.6,502.9 L1051.4,526.1 L1072.1,560.3 L1110.4,537.1 A20.0,20.0 0 0 0 1089.6,502.9 Z" fill="url(#g14)"/>
<path d="M1051.4,526.1 L1023.6,542.9 A20.0,20.0 0 0 0 1044.4,577.1 L1072.1,560.3 Z" fill="url(#g15)"/>
</g>
<g id="faint-O">
<path d="M949.5,369.2 L905.5,376.7 A15.0,15.0 0 0 0 910.5,406.3 L954.5,398.8 A15.0,15.0 0 0 0 949.5,369.2 Z" fill="url(#g16)"/>
<path d="M898,391 L950,383" stroke="#ffffff" stroke-width="1.6" fill="none"/>
</g>
<g id="far-top">
<path d="M431.5,87.0 L486.5,53.0 A20.0,20.0 0 0 0 465.5,19.0 L410.5,53.0 A20.0,20.0 0 0 0 431.5,87.0 Z" fill="url(#g17)"/>
<path d="M450.4,8.0 L466.4,86.0 A20.0,20.0 0 0 0 505.6,78.0 L489.6,-0.0 A20.0,20.0 0 0 0 450.4,8.0 Z" fill="url(#g18)"/>
<path d="M514.7,17.5 L549.7,-20.5 A20.0,20.0 0 0 0 520.3,-47.5 L485.3,-9.5 A20.0,20.0 0 0 0 514.7,17.5 Z" fill="url(#g19)"/>
<text x="507" y="27.5" font-size="27" text-anchor="middle" fill="#ffffff" stroke="#e6e6e6" stroke-width="0.7">CA</text>
</g>
<g id="far-N">
<path d="M534.0,419.4 L636.6,447.5 A12.0,12.0 0 0 0 643.4,424.5 L542.0,392.6 A14.0,14.0 0 0 0 534.0,419.4 Z" fill="url(#g20)"/>
<text x="535" y="414.5" font-size="27" text-anchor="middle" fill="#ffffff" stroke="#dcdcec" stroke-width="0.7">N</text>
</g>
<g id="thr">
<path d="M447.2,391.6 L500.2,351.6 A17.0,17.0 0 0 0 479.8,324.4 L426.8,364.4 A17.0,17.0 0 0 0 447.2,391.6 Z" fill="url(#g21)"/>
<path d="M351.2,451.9 L446.2,392.9 A17.5,17.5 0 0 0 427.8,363.1 L332.8,422.1 A17.5,17.5 0 0 0 351.2,451.9 Z" fill="url(#g22)"/>
<path d="M422.4,391.6 L452.1,423.6 L481.3,396.3 L451.6,364.4 A20.0,20.0 0 0 0 422.4,391.6 Z" fill="url(#g23)"/>
<path d="M452.1,423.6 L488.4,462.6 A20.0,20.0 0 0 0 517.6,435.4 L481.3,396.3 Z" fill="url(#g24)"/>
</g>
<g id="far-O-top">
<path d="M766,108 C770,105 772,103 773,101 C772,80 776,58 790,52 C800,52 805,72 806,90 L808,115 L790,100 Z" fill="url(#g25)"/>
<path d="M776.3,68.6 L753.3,114.6 A7.5,7.5 0 0 0 766.7,121.4 L789.7,75.4 A7.5,7.5 0 0 0 776.3,68.6 Z" fill="url(#g26)"/>
</g>
<text x="735" y="127.5" font-size="27" text-anchor="middle" fill="#ffffff" stroke="#ececec" stroke-width="0.6">CA</text>
<g id="ribbon">
<path d="M477,232 C483,224 490,220 497,217 C540,202 580,189 613,176 C645,164 672,154 700,142 C722,133 742,123 760,112 C773,104 783,98 790,92 C794,89 797,86 800,82 C804,92 807,102 808,115 C812,138 813,160 813,180 C813,205 812,228 810,250 C806,268 801,281 795,292 C778,306 760,320 740,332 C715,345 690,354 665,362 C648,367 632,372 615,377 C598,382 582,387 565,392 C545,400 525,408 507,416 C498,399 490,382 485,365 C479,344 474,322 472,300 C470,283 469,266 470,250 C471,243 473,237 477,232 Z" fill="url(#g27)"/>
<path d="M477,232 C483,224 490,220 497,217 C540,202 580,189 613,176 C645,164 672,154 700,142 C722,133 742,123 760,112 C773,104 783,98 790,92 C794,89 797,86 800,82 C804,92 807,102 808,115 C812,138 813,160 813,180 C813,205 812,228 810,250 C806,268 801,281 795,292 C778,306 760,320 740,332 C715,345 690,354 665,362 C648,367 632,372 615,377 C598,382 582,387 565,392 C545,400 525,408 507,416 C498,399 490,382 485,365 C479,344 474,322 472,300 C470,283 469,266 470,250 C471,243 473,237 477,232 Z" fill="url(#g28)"/>
<path d="M477,232 C483,224 490,220 497,217 C540,202 580,189 613,176 C645,164 672,154 700,142 C722,133 742,123 760,112 C773,104 783,98 790,92 C794,89 797,86 800,82 C804,92 807,102 808,115 C812,138 813,160 813,180 C813,205 812,228 810,250 C806,268 801,281 795,292 C778,306 760,320 740,332 C715,345 690,354 665,362 C648,367 632,372 615,377 C598,382 582,387 565,392 C545,400 525,408 507,416 C498,399 490,382 485,365 C479,344 474,322 472,300 C470,283 469,266 470,250 C471,243 473,237 477,232 Z" fill="url(#g29)"/>
<path d="M477,232 C483,224 490,220 497,217 C540,202 580,189 613,176 C645,164 672,154 700,142 C722,133 742,123 760,112 C773,104 783,98 790,92 C794,89 797,86 800,82 C804,92 807,102 808,115 C812,138 813,160 813,180 C813,205 812,228 810,250 C806,268 801,281 795,292 C778,306 760,320 740,332 C715,345 690,354 665,362 C648,367 632,372 615,377 C598,382 582,387 565,392 C545,400 525,408 507,416 C498,399 490,382 485,365 C479,344 474,322 472,300 C470,283 469,266 470,250 C471,243 473,237 477,232 Z" fill="url(#g30)"/>
<path d="M613,176 C645,164 672,154 700,142 C722,133 742,123 760,112 C773,104 783,98 792,90" stroke="#a8a8a8" stroke-width="1.2" fill="none"/>
<path d="M473,258 C480,252 488,250 494,254 C492,275 484,292 476,305 C473,290 472,272 473,258 Z" fill="#b8b8b8" opacity="0.7"/>
<path d="M754,266 L780,261 M763,247 L770,280" stroke="#a6a6a6" stroke-width="3.2" stroke-linecap="round" fill="none"/>
<path d="M786,98 L803,90 M793,86 L799,106" stroke="#8a8a8a" stroke-width="1.6" stroke-linecap="round" fill="none" opacity="0.8"/>
</g>
<g id="lys">
<path d="M507.9,24.6 L502.9,-22.4 A23.0,23.0 0 0 0 457.1,-17.6 L462.1,29.4 A23.0,23.0 0 0 0 507.9,24.6 Z" fill="url(#g31)"/>
<path d="M470.1,41.3 L554.6,144.3 A22.5,22.5 0 0 0 589.4,115.7 L504.9,12.7 A22.5,22.5 0 0 0 470.1,41.3 Z" fill="url(#g32)"/>
<path d="M549.1,123.0 L539.1,153.0 A22.0,22.0 0 0 0 580.9,167.0 L590.9,137.0 A22.0,22.0 0 0 0 549.1,123.0 Z" fill="url(#g33)"/>
<circle cx="489" cy="14" r="11" fill="url(#g34)"/>
</g>
<g id="dashes">
<path d="M578.8,235.5 L593.8,252.5 A8.2,8.2 0 0 0 606.2,241.5 L591.2,224.5 A8.2,8.2 0 0 0 578.8,235.5 Z" fill="url(#g35)"/>
<path d="M609.0,271.7 L626.0,289.7 A8.2,8.2 0 0 0 638.0,278.3 L621.0,260.3 A8.2,8.2 0 0 0 609.0,271.7 Z" fill="url(#g36)"/>
<path d="M640.8,307.5 L655.8,324.5 A8.2,8.2 0 0 0 668.2,313.5 L653.2,296.5 A8.2,8.2 0 0 0 640.8,307.5 Z" fill="url(#g37)"/>
<path d="M673.9,341.5 L693.9,363.5 A8.2,8.2 0 0 0 706.1,352.5 L686.1,330.5 A8.2,8.2 0 0 0 673.9,341.5 Z" fill="url(#g38)"/>
</g>
<path d="M754.2,396.4 L782.4,409.8 L788.0,398.0 L759.8,384.6 A6.5,6.5 0 0 0 754.2,396.4 Z" fill="url(#g39)"/>
<path d="M782.4,409.8 L814.2,424.9 A6.5,6.5 0 0 0 819.8,413.1 L788.0,398.0 Z" fill="url(#g40)"/>
<circle cx="555" cy="199" r="58" fill="url(#g41)"/>
<circle cx="562" cy="182" r="24.4" fill="url(#g42)"/>
<circle cx="723" cy="385" r="56.5" fill="url(#g43)"/>
<circle cx="735" cy="372" r="23.7" fill="url(#g44)"/>
<g id="asp">
<path d="M882.0,434.9 L960.0,423.9 A14.0,14.0 0 0 0 956.0,396.1 L878.0,407.1 A14.0,14.0 0 0 0 882.0,434.9 Z" fill="url(#g45)"/>
<path d="M1001.6,454.0 L953.6,417.0 A19.0,19.0 0 0 0 930.4,447.0 L978.4,484.0 A19.0,19.0 0 0 0 1001.6,454.0 Z" fill="url(#g46)"/>
<path d="M995.2,486.2 L1042.8,471.8 L1032.4,437.3 L984.8,451.8 A18.0,18.0 0 0 0 995.2,486.2 Z" fill="url(#g47)"/>
<path d="M1042.8,471.8 L1051.2,469.2 A18.0,18.0 0 0 0 1040.8,434.8 L1032.4,437.3 Z" fill="url(#g48)"/>
<path d="M966.1,393.5 L972.6,356.1 L955.4,353.1 L948.9,390.5 Z" fill="url(#g49)"/>
<path d="M972.6,356.1 L981.6,304.5 A8.8,8.8 0 0 0 964.4,301.5 L955.4,353.1 Z" fill="url(#g50)"/>
<path d="M982.1,395.7 L989.0,360.4 L971.8,357.0 L964.9,392.3 Z" fill="url(#g51)"/>
<path d="M989.0,360.4 L998.6,311.7 A8.8,8.8 0 0 0 981.4,308.3 L971.8,357.0 Z" fill="url(#g52)"/>
<circle cx="962" cy="402" r="16" fill="#9a9a9a"/>
<path d="M925,416 C940,413 955,411 968,412 C985,416 998,425 1011,430 C1022,435 1030,437 1037,435 C1044,428 1054,425 1061,429 C1069,435 1071,447 1066,454 C1062,460 1058,461 1053,461 C1046,464 1040,464 1033,463 C1016,458 1003,452 989,448 C975,444 962,442 951,441 L925,441 Z" fill="url(#g53)"/>
<circle cx="866" cy="551" r="32" fill="url(#g54)"/>
<text x="850" y="562.5" font-size="27" text-anchor="middle" fill="#ffffff" stroke="#e2e2f2" stroke-width="0.7">OD1</text>
<path d="M733.7,482.6 L748.7,551.6 A7.5,7.5 0 0 0 763.3,548.4 L748.3,479.4 A7.5,7.5 0 0 0 733.7,482.6 Z" fill="url(#g55)"/>
<path d="M745.7,483.7 L760.7,547.7 A7.5,7.5 0 0 0 775.3,544.3 L760.3,480.3 A7.5,7.5 0 0 0 745.7,483.7 Z" fill="url(#g56)"/>
<path d="M746,479 L761,548" stroke="#f4f4f4" stroke-width="1.2" fill="none"/>
<path d="M748.7,550.2 L718.7,600.2 A19.0,19.0 0 0 0 751.3,619.8 L781.3,569.8 A19.0,19.0 0 0 0 748.7,550.2 Z" fill="url(#g57)"/>
<path d="M764.2,577.9 L785.2,580.0 L788.8,544.2 L767.8,542.1 A18.0,18.0 0 0 0 764.2,577.9 Z" fill="url(#g58)"/>
<path d="M785.2,580.0 L824.2,583.9 A18.0,18.0 0 0 0 827.8,548.1 L788.8,544.2 Z" fill="url(#g59)"/>
<path d="M878.3,517.9 L896.3,469.9 A11.0,11.0 0 0 0 875.7,462.1 L857.7,510.1 A11.0,11.0 0 0 0 878.3,517.9 Z" fill="url(#g60)"/>
<path d="M843.5,575.7 L875.5,517.7 A20.0,20.0 0 0 0 840.5,498.3 L808.5,556.3 A20.0,20.0 0 0 0 843.5,575.7 Z" fill="url(#g61)"/>
<path d="M805.2,475.8 L801.2,502.8 A15.0,15.0 0 0 0 830.8,507.2 L834.8,480.2 A15.0,15.0 0 0 0 805.2,475.8 Z" fill="url(#g62)"/>
<path d="M797.2,604.8 L830.2,507.8 A15.0,15.0 0 0 0 801.8,498.2 L768.8,595.2 A15.0,15.0 0 0 0 797.2,604.8 Z" fill="url(#g63)"/>
<path d="M781,548 C786,544 792,545 795,549 L788,572 C784,574 780,572 779,568 Z" fill="#7474e0"/>
<path d="M761.8,416.8 L771.2,421.2 L777.6,407.6 L768.2,403.2 A7.5,7.5 0 0 0 761.8,416.8 Z" fill="url(#g64)"/>
<path d="M771.2,421.2 L808.8,438.8 A7.5,7.5 0 0 0 815.2,425.2 L777.6,407.6 Z" fill="url(#g65)"/>
<path d="M828.1,465.9 L926.4,467.9 A22.0,22.0 0 0 0 929.6,424.1 L831.9,412.1 A27.0,27.0 0 0 0 828.1,465.9 Z" fill="url(#g66)"/>
<ellipse cx="829" cy="439" rx="25" ry="27" transform="rotate(-12 829 439)" fill="url(#g67)"/>
<path d="M816.2,468.4 L826.2,491.4 A26.0,26.0 0 0 0 873.8,470.6 L863.8,447.6 A26.0,26.0 0 0 0 816.2,468.4 Z" fill="url(#g68)"/>
<circle cx="850" cy="481" r="26.5" fill="url(#g69)"/>
<circle cx="856" cy="472" r="11.1" fill="url(#g70)"/>
</g>
<g id="left">
<path d="M-20.0,309.0 L47.0,309.0 A16.0,16.0 0 0 0 47.0,277.0 L-20.0,277.0 A16.0,16.0 0 0 0 -20.0,309.0 Z" fill="url(#g71)"/>
<path d="M134.4,148.0 L177.9,149.5 L179.1,113.5 L135.6,112.0 A18.0,18.0 0 0 0 134.4,148.0 Z" fill="url(#g72)"/>
<path d="M177.9,149.5 L221.4,151.0 A18.0,18.0 0 0 0 222.6,115.0 L179.1,113.5 Z" fill="url(#g73)"/>
<path d="M110.1,121.3 L72.1,233.3 A21.0,21.0 0 0 0 111.9,246.7 L149.9,134.7 A21.0,21.0 0 0 0 110.1,121.3 Z" fill="url(#g74)"/>
<text x="131" y="140.5" font-size="27" text-anchor="middle" fill="#ffffff">CG</text>
<path d="M0,0 L240,0 C236,25 225,45 212,61 C200,76 188,88 174,97 C160,107 150,111 138,116 C125,123 112,129 100,133 C80,139 55,142 38,141 L0,139 Z" fill="url(#g75)"/>
<clipPath id="blobclip"><path d="M0,0 L240,0 C236,25 225,45 212,61 C200,76 188,88 174,97 C160,107 150,111 138,116 C125,123 112,129 100,133 C80,139 55,142 38,141 L0,139 Z"/></clipPath>
<g clip-path="url(#blobclip)">
<path d="M0,123 C25,117 42,110 59,102 C80,93 98,86 113,77 L134,114 L100,136 L40,145 L0,142 Z" fill="#6e6e6e"/>
<path d="M0,133 C40,132 80,124 131,106 L136,120 L100,136 L40,145 L0,142 Z" fill="#7e7e7e"/>
<path d="M140,0 L250,0 L250,60 L175,110 L150,60 Z" fill="url(#g76)"/>
<path d="M-32.9,6.8 L4.1,30.8 L25.9,-2.8 L-11.1,-26.8 A20.0,20.0 0 0 0 -32.9,6.8 Z" fill="url(#g77)"/>
<path d="M4.1,30.8 L41.1,54.8 A20.0,20.0 0 0 0 62.9,21.2 L25.9,-2.8 Z" fill="url(#g78)"/>
<path d="M74.3,75.5 L128.3,41.5 A23.0,23.0 0 0 0 103.7,2.5 L49.7,36.5 A23.0,23.0 0 0 0 74.3,75.5 Z" fill="url(#g79)"/>
<path d="M140.7,25.8 L147.7,-16.2 A23.0,23.0 0 0 0 102.3,-23.8 L95.3,18.2 A23.0,23.0 0 0 0 140.7,25.8 Z" fill="url(#g80)"/>
</g>
<path d="M99.2,28.7 L109.2,56.7 A20.0,20.0 0 0 0 146.8,43.3 L136.8,15.3 A20.0,20.0 0 0 0 99.2,28.7 Z" fill="url(#g81)"/>
<path d="M103.8,44.8 L119.6,71.8 L136.0,62.2 L120.2,35.2 Z" fill="url(#g82)"/>
<path d="M119.6,71.8 L147.8,119.8 A9.5,9.5 0 0 0 164.2,110.2 L136.0,62.2 Z" fill="url(#g83)"/>
<path d="M117,55 L131,52 L136,64 L122,67 Z" fill="#787878"/>
<path d="M116.1,22.6 L132.1,53.6 L149.9,44.5 L133.9,13.4 Z" fill="url(#g84)"/>
<path d="M132.1,53.6 L154.1,96.6 A10.0,10.0 0 0 0 171.9,87.4 L149.9,44.5 Z" fill="url(#g85)"/>
<path d="M129,40 L144,37 L148,46 L133,50 Z" fill="#7a7a7a"/>
<path d="M223.8,39.5 L214.7,105.2 M184.5,75.7 L252.8,70.2 M202.4,55.7 L235.7,90.7" stroke="#d63c3c" stroke-width="6.4" stroke-linecap="round" fill="none"/>
<path d="M-8.3,580.5 L51.7,620.5 A15.0,15.0 0 0 0 68.3,595.5 L8.3,555.5 A15.0,15.0 0 0 0 -8.3,580.5 Z" fill="url(#g86)"/>
<path d="M123.0,610.7 L161.0,601.7 A13.0,13.0 0 0 0 155.0,576.3 L117.0,585.3 A13.0,13.0 0 0 0 123.0,610.7 Z" fill="url(#g87)"/>
<path d="M123.6,454.4 L66.4,476.1 L81.9,515.0 L138.4,491.6 A20.0,20.0 0 0 0 123.6,454.4 Z" fill="url(#g88)"/>
<path d="M66.4,476.1 L1.9,500.6 L18.1,541.4 L81.9,515.0 Z" fill="url(#g89)"/>
<path d="M1.8,500.6 L-38.2,516.6 A22.0,22.0 0 0 0 -21.8,557.4 L18.2,541.4 A22.0,22.0 0 0 0 1.8,500.6 Z" fill="url(#g90)"/>
<path d="M66,477 L74,474 L78,490 L70,492 Z" fill="#ff7272"/>
<path d="M215.3,441.2 L128.3,453.2 A20.0,20.0 0 0 0 133.7,492.8 L220.7,480.8 A20.0,20.0 0 0 0 215.3,441.2 Z" fill="url(#g91)"/>
<path d="M248.8,462.5 L264.1,403.0 L221.4,392.0 L206.2,451.5 A22.0,22.0 0 0 0 248.8,462.5 Z" fill="url(#g92)"/>
<path d="M264.1,403.0 L279.3,343.5 A22.0,22.0 0 0 0 236.7,332.5 L221.4,392.0 Z" fill="url(#g93)"/>
<path d="M-20,420 L32,420 L15,600 L-20,600 Z" fill="url(#g94)"/>
<path d="M-20,366 L14,368 C24,380 31,388 34,398 L35,425 C25,434 10,438 -20,440 Z" fill="#202020"/>
<path d="M-23.5,376.3 L95.5,390.3 A30.0,30.0 0 0 0 102.5,330.7 L-16.5,316.7 A30.0,30.0 0 0 0 -23.5,376.3 Z" fill="url(#g95)"/>
<path d="M96.2,334.8 L97.6,315.4 L71.9,313.8 L70.8,333.2 A12.8,12.8 0 0 0 96.2,334.8 Z" fill="url(#g96)"/>
<path d="M97.6,315.4 L101.2,262.8 A13.2,13.2 0 0 0 74.8,261.2 L71.9,313.8 Z" fill="url(#g97)"/>
<path d="M126.2,373.1 L130.6,333.6 L104.7,331.2 L101.8,370.9 A12.2,12.2 0 0 0 126.2,373.1 Z" fill="url(#g98)"/>
<path d="M130.6,333.6 L136.4,281.3 A14.0,14.0 0 0 0 108.6,278.7 L104.7,331.2 Z" fill="url(#g99)"/>
<circle cx="88" cy="263" r="13" fill="url(#g100)"/>
<circle cx="122.5" cy="281" r="14" fill="url(#g101)"/>
<circle cx="89" cy="354.5" r="11" fill="url(#g102)"/>
</g>
<path d="M906.9,128.4 L891.5,167.6 M883.0,136.9 L913.8,159.1 M883.0,150.0 L913.8,145.3" stroke="#dc6464" stroke-width="3.8" stroke-linecap="round" fill="none"/>
<path d="M1247.8,274.6 L1231.4,304.6 M1224.6,279.4 L1254.6,299.8 M1228.7,292.3 L1249.8,286.9" stroke="#f3c6c6" stroke-width="3.6" stroke-linecap="round" fill="none"/>
<path d="M893.8,-2.0 L891.7,5.0" stroke="#e08888" stroke-width="4" stroke-linecap="round" fill="none"/>
<g id="labels" opacity="0.995">
<text x="118" y="31.8" font-size="27" text-anchor="middle" fill="#ffffff">C</text>
<text x="63" y="69.8" font-size="27" text-anchor="middle" fill="#ffffff">CA</text>
<text x="160" y="114.8" font-size="27" text-anchor="middle" fill="#ffffff">O</text>
<text x="218" y="82.8" font-size="27" text-anchor="middle" fill="#ffffff">O</text>
<text x="218" y="142.8" font-size="27" text-anchor="middle" fill="#ffffff">CD1</text>
<text x="92" y="251.8" font-size="27" text-anchor="middle" fill="#ffffff">CD2</text>
<text x="106" y="281.8" font-size="27" text-anchor="middle" fill="#ffffff">O</text>
<text x="45" y="302.8" font-size="27" text-anchor="middle" fill="#ffffff" stroke="#e6e6e6" stroke-width="0.7">CG1</text>
<text x="257" y="347.8" font-size="27" text-anchor="middle" fill="#ffffff">O1</text>
<text x="96" y="371.8" font-size="27" text-anchor="middle" fill="#ffffff">C</text>
<text x="8" y="421.8" font-size="27" text-anchor="middle" fill="#ffffff">CB</text>
<text x="134" y="484.8" font-size="27" text-anchor="middle" fill="#ffffff">C2</text>
<text x="224" y="471.8" font-size="27" text-anchor="middle" fill="#ffffff">C1</text>
<text x="25" y="531.8" font-size="27" text-anchor="middle" fill="#ffffff">2</text>
<text x="-5.5" y="583.8" font-size="27" text-anchor="middle" fill="#ffffff">G</text>
<text x="150" y="603.8" font-size="27" text-anchor="middle" fill="#ffffff" stroke="#e6e6e6" stroke-width="0.7">CD2</text>
<text x="487" y="34.8" font-size="27" text-anchor="middle" fill="#ffffff">CD</text>
<text x="421" y="77.8" font-size="27" text-anchor="middle" fill="#ffffff" stroke="#ededed" stroke-width="0.6">CB</text>
<text x="585" y="86.8" font-size="27" text-anchor="middle" fill="#ffffff" stroke="#ededed" stroke-width="0.6">N</text>
<text x="665" y="59.8" font-size="27" text-anchor="middle" fill="#ffffff" stroke="#ededed" stroke-width="0.6">C</text>
<text x="783" y="81.8" font-size="27" text-anchor="middle" fill="#ffffff">O</text>
<text x="570" y="139.8" font-size="27" text-anchor="middle" fill="#ffffff">CE</text>
<text x="555" y="210.8" font-size="27" text-anchor="middle" fill="#ffffff">NZ</text>
<text x="743" y="237.8" font-size="27" text-anchor="middle" fill="#ffffff">CA</text>
<text x="640" y="303.8" font-size="27" text-anchor="middle" fill="#ffffff">2.7</text>
<clipPath id="cacl"><rect x="440" y="310" width="67.5" height="50"/></clipPath><g clip-path="url(#cacl)">
<text x="492" y="342.8" font-size="27" text-anchor="middle" fill="#ffffff">CA</text>
</g>
<text x="435" y="390.8" font-size="27" text-anchor="middle" fill="#ffffff">CB</text>
<text x="350" y="445.8" font-size="27" text-anchor="middle" fill="#ffffff">CG2</text>
<text x="504" y="456.8" font-size="27" text-anchor="middle" fill="#ffffff">OG1</text>
<text x="722" y="396.8" font-size="27" text-anchor="middle" fill="#ffffff">OD1</text>
<text x="826" y="446.8" font-size="27" text-anchor="middle" fill="#ffffff">CG</text>
<text x="926" y="457.8" font-size="27" text-anchor="middle" fill="#ffffff">CB</text>
<text x="849" y="493.8" font-size="27" text-anchor="middle" fill="#ffffff">OD2</text>
<text x="742" y="499.8" font-size="27" text-anchor="middle" fill="#ffffff">O</text>
<text x="765" y="571.8" font-size="27" text-anchor="middle" fill="#ffffff">C</text>
<text x="829" y="566.8" font-size="27" text-anchor="middle" fill="#ffffff">N</text>
<text x="726" y="457.8" font-size="27" text-anchor="middle" fill="#ffffff" stroke="#f4f4f4" stroke-width="0.5">CB</text>
<text x="983" y="319.8" font-size="27" text-anchor="middle" fill="#ffffff">O</text>
<text x="907" y="396.8" font-size="27" text-anchor="middle" fill="#ffffff">O</text>
<text x="990" y="380.8" font-size="27" text-anchor="middle" fill="#ffffff">C</text>
<text x="956" y="413.8" font-size="27" text-anchor="middle" fill="#ffffff">C</text>
<text x="1056" y="442.8" font-size="27" text-anchor="middle" fill="#ffffff">CA</text>
<text x="990" y="479.8" font-size="27" text-anchor="middle" fill="#ffffff">N</text>
<text x="1035" y="309.8" font-size="27" text-anchor="middle" fill="#ffffff">N</text>
<text x="988" y="252.8" font-size="27" text-anchor="middle" fill="#ffffff" stroke="#e6e6e6" stroke-width="0.7">CA</text>
<text x="1046" y="107.8" font-size="27" text-anchor="middle" fill="#ffffff" stroke="#e6e6e6" stroke-width="0.7">CG2</text>
<text x="1035" y="159.8" font-size="27" text-anchor="middle" fill="#ffffff" stroke="#e6e6e6" stroke-width="0.7">CB</text>
<text x="1101" y="527.8" font-size="27" text-anchor="middle" fill="#ffffff">CB</text>
<text x="1030" y="571.8" font-size="27" text-anchor="middle" fill="#ffffff">OG</text>
<text x="897.5" y="156.8" font-size="27" text-anchor="middle" fill="#ffffff">O</text>
<text x="1240" y="299.8" font-size="27" text-anchor="middle" fill="#ffffff">O</text>
</g>
<path d="M505.7,425.3 L496.2,460.8 M488.0,429.4 L513.2,457.3 M481.2,448.5 L519.4,438.2" stroke="#dc5050" stroke-width="2.4" stroke-linecap="round" fill="none"/>
<text x="500.5" y="452" font-size="27" text-anchor="middle" fill="#ffffff">O</text>
</svg>
</body>
</html>
